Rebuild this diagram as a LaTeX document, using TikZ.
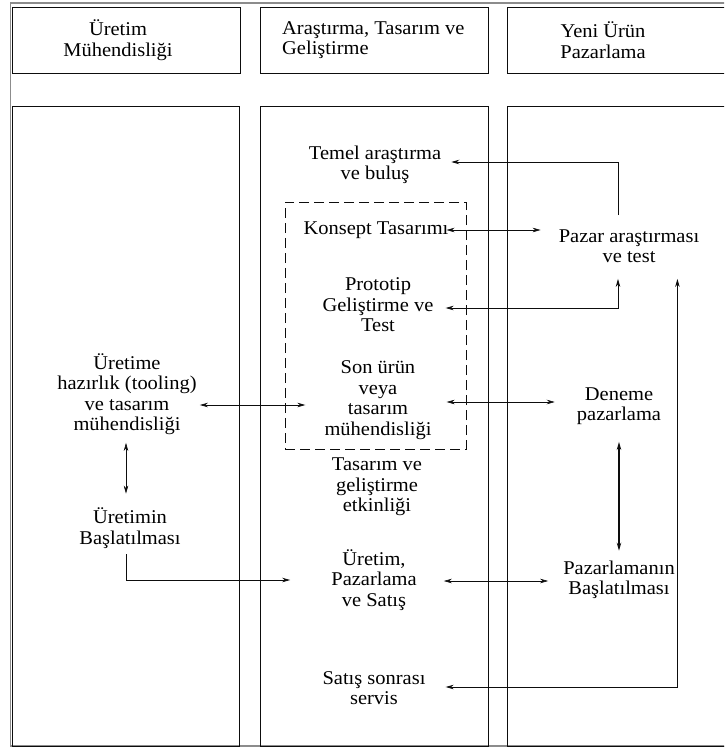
\documentclass[tikz,border=0pt]{standalone}
\usepackage{fontspec}
\setmainfont[FakeStretch=1.05]{Liberation Serif}
\usetikzlibrary{arrows.meta}
\definecolor{framegray}{gray}{0.55}
\definecolor{ink}{gray}{0.05}
\tikzset{
  txt/.style={align=center, inner sep=0pt, text=black, font=\fontsize{19.5}{20.5}\selectfont},
  lanebox/.style={draw=ink, line width=0.9pt},
  dashbox/.style={draw=ink, line width=0.9pt, dash pattern=on 10pt off 5pt},
  tip/.tip={Stealth[length=8pt,width=4.5pt]},
  arr/.style={draw=ink, line width=0.8pt, -tip},
  darr/.style={draw=ink, line width=0.8pt, tip-tip},
  thinarr/.style={draw=ink, line width=0.55pt, tip-tip},
  boldarr/.style={draw=ink, line width=1.4pt, tip-tip}
}
\begin{document}
\begin{tikzpicture}[x=1pt,y=-1pt]
\useasboundingbox (0,0) rectangle (724,747);
\clip (0,0) rectangle (724,747);
\fill[white] (0,0) rectangle (724,747);
% outer frame
\draw[framegray, line width=1.3pt] (10.5,3) rectangle (740,746);
% header boxes
\draw[lanebox] (12.5,7) rectangle (240,73);
\draw[lanebox] (260,7) rectangle (488.5,73);
\draw[lanebox] (507,7) rectangle (740,73);
% body boxes
\draw[lanebox] (12.5,106) rectangle (239,746);
\draw[lanebox] (260,106) rectangle (488,746);
\draw[lanebox] (507,106) rectangle (740,746);
% header texts
\node[txt] (h1) at (118,40) {Üretim\\Mühendisliği};
\node[txt, align=left, anchor=west] (h2) at (282,40) {Araştırma, Tasarım ve\\Geliştirme};
\node[txt] (h3) at (603,40) {Yeni Ürün\\Pazarlama};
% dashed design box
\node[dashbox, minimum width=181pt, minimum height=247pt, inner sep=0pt] (dbox) at (375.5,325.5) {};
% column 2
\node[txt] (temel) at (375,165) {Temel araştırma\\ve buluş};
\node[txt] (konsept) at (376,230) {Konsept Tasarımı};
\node[txt] (proto) at (378,305) {Prototip\\Geliştirme ve\\Test};
\node[txt] (sonurun) at (378,400) {Son ürün\\veya\\tasarım\\mühendisliği};
\node[txt] (etkinlik) at (377,487) {Tasarım ve\\geliştirme\\etkinliği};
\node[txt] (uretimpaz) at (374,580) {Üretim,\\Pazarlama\\ve Satış};
\node[txt] (satis) at (374,688) {Satış sonrası\\servis};
% column 1
\node[txt] (uretime) at (127,394) {Üretime\\hazırlık (tooling)\\ve tasarım\\mühendisliği};
\node[txt] (uretimin) at (130,528) {Üretimin\\Başlatılması};
% column 3
\node[txt] (pazar) at (629,246) {Pazar araştırması\\ve test};
\node[txt] (deneme) at (619,406) {Deneme\\pazarlama};
\node[txt] (pazbas) at (619,580) {Pazarlamanın\\Başlatılması};
% connectors
\draw[arr] ([shift={(-11,-14)}]pazar.north) |- ([shift={(10,-3)}]temel.east);
\draw[thinarr, shorten <=-2pt, shorten >=18pt] (konsept.east) -- (konsept.east -| pazar.west);
\draw[darr] ([shift={(-11,16)}]pazar.south) |- ([shift={(12,3)}]proto.east);
\draw[darr] ([shift={(-22,16)}]pazar.south east) |- ([shift={(20,-1)}]satis.east);
\draw[darr] ([shift={(3,11)}]uretime.east) -- ([shift={(-19,5)}]sonurun.west);
\draw[thinarr] ([shift={(15,2)}]sonurun.east) -- ([shift={(-22,-4)}]deneme.west);
\draw[boldarr, shorten <=17pt, shorten >=10pt] (deneme.south) -- (pazbas.north);
\draw[thinarr] ([shift={(-1,8)}]uretime.south) -- ([shift={(-4,-14)}]uretimin.north);
\draw[arr] ([shift={(-4,6)}]uretimin.south) |- ([shift={(-41,0)}]uretimpaz.west);
\draw[thinarr] ([shift={(27,1)}]uretimpaz.east) -- ([shift={(-15,1)}]pazbas.west);
\end{tikzpicture}
\end{document}
